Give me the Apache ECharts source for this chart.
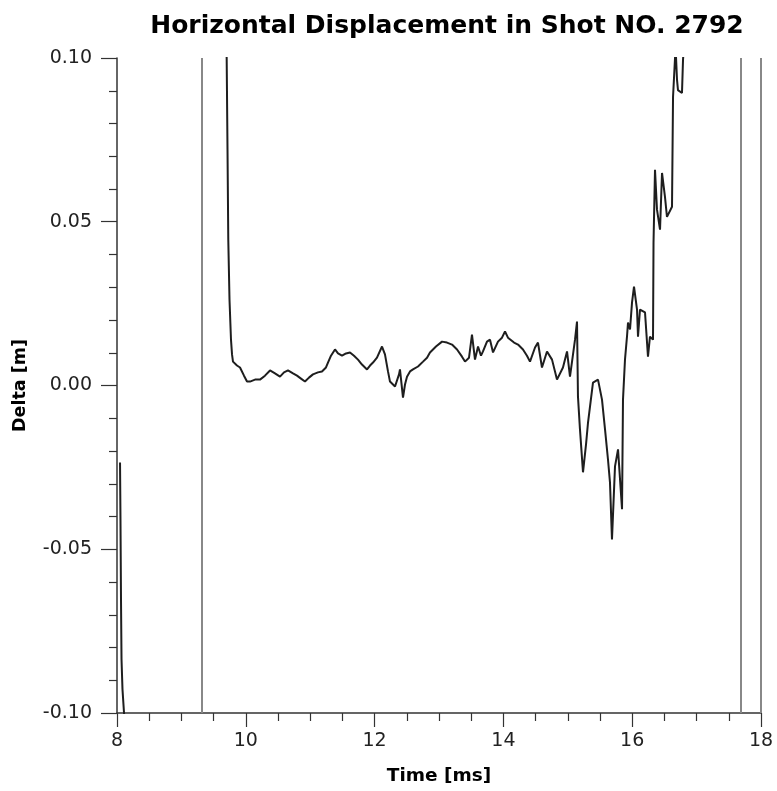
<!DOCTYPE html>
<html>
<head>
<meta charset="utf-8">
<script src="https://cdn.jsdelivr.net/npm/echarts@6/dist/echarts.min.js"></script>
<style>html,body{margin:0;padding:0;background:#fff}#c{width:777px;height:791px}</style>
</head>
<body>
<div id="c"></div>
<script>
const titleText = 'Horizontal Displacement in Shot NO. 2792';
const xName = 'Time [ms]';
const yName = 'Delta [m]';
const xTicks = [8, 10, 12, 14, 16, 18];
const yTicks = [-0.10, -0.05, 0.00, 0.05, 0.10];
const markerTimes = [9.32, 17.69, 17.99];

// early segment (near 8 ms)
const seg1T = [8.047, 8.054, 8.062, 8.070, 8.085, 8.109, 8.124];
const seg1V = [-0.0235, -0.0409, -0.0652, -0.0835, -0.0927, -0.1000, -0.105];

// main segment
const seg2T = [9.693, 9.703, 9.716, 9.728, 9.747, 9.770, 9.786, 9.801, 9.863, 9.910, 9.972,
  10.019, 10.065, 10.143, 10.220, 10.298, 10.376, 10.453, 10.531, 10.593, 10.655, 10.733, 10.795,
  10.857, 10.919, 10.981, 11.043, 11.120, 11.183, 11.245, 11.276, 11.323, 11.385, 11.432, 11.494,
  11.556, 11.618, 11.680, 11.742, 11.804, 11.882, 11.929, 11.975, 12.037, 12.115, 12.161, 12.208,
  12.239, 12.317, 12.379, 12.394, 12.441, 12.472, 12.503, 12.550, 12.596, 12.674, 12.752, 12.814,
  12.860, 12.953, 13.047, 13.124, 13.202, 13.280, 13.357, 13.404, 13.466, 13.512, 13.559, 13.606,
  13.652, 13.683, 13.745, 13.792, 13.839, 13.916, 13.978, 14.025, 14.071, 14.102, 14.165, 14.227,
  14.304, 14.366, 14.413, 14.491, 14.537, 14.599, 14.677, 14.755, 14.832, 14.925, 14.988, 15.034,
  15.081, 15.112, 15.143, 15.158, 15.189, 15.236, 15.283, 15.314, 15.391, 15.469, 15.531, 15.578,
  15.624, 15.655, 15.686, 15.733, 15.780, 15.842, 15.857, 15.888, 15.919, 15.935, 15.966, 15.997,
  16.028, 16.075, 16.090, 16.121, 16.199, 16.245, 16.276, 16.323, 16.331, 16.354, 16.385, 16.432,
  16.463, 16.509, 16.540, 16.618, 16.634, 16.665, 16.672, 16.696, 16.711, 16.773, 16.789, 16.804];
const seg2V = [0.1055, 0.1000, 0.0720, 0.0445, 0.0262, 0.0140, 0.0095, 0.0073, 0.0061, 0.0055, 0.0030,
  0.0012, 0.0012, 0.0018, 0.0018, 0.0030, 0.0046, 0.0037, 0.0027, 0.0040, 0.0046, 0.0037, 0.0030,
  0.0021, 0.0012, 0.0024, 0.0034, 0.0040, 0.0043, 0.0055, 0.0070, 0.0091, 0.0110, 0.0098, 0.0091,
  0.0098, 0.0101, 0.0091, 0.0079, 0.0064, 0.0049, 0.0061, 0.0070, 0.0085, 0.0119, 0.0095, 0.0043,
  0.0012, -0.0003, 0.0034, 0.0049, -0.0037, 0.0003, 0.0027, 0.0043, 0.0049, 0.0058, 0.0073, 0.0085,
  0.0101, 0.0119, 0.0134, 0.0131, 0.0125, 0.0110, 0.0088, 0.0073, 0.0085, 0.0155, 0.0079, 0.0119,
  0.0091, 0.0104, 0.0134, 0.0140, 0.0101, 0.0134, 0.0146, 0.0165, 0.0146, 0.0140, 0.0131, 0.0125,
  0.0110, 0.0091, 0.0073, 0.0116, 0.0131, 0.0055, 0.0104, 0.0079, 0.0018, 0.0055, 0.0104, 0.0027,
  0.0095, 0.0140, 0.0195, -0.0034, -0.0134, -0.0265, -0.0180, -0.0113, 0.0009, 0.0018, -0.0043, -0.0134,
  -0.0226, -0.0296, -0.0470, -0.0247, -0.0195, -0.0378, -0.0043, 0.0079, 0.0149, 0.0192, 0.0171, 0.0253,
  0.0302, 0.0232, 0.0149, 0.0232, 0.0223, 0.0088, 0.0149, 0.0140, 0.0436, 0.0659, 0.0537, 0.0476,
  0.0649, 0.0576, 0.0515, 0.0546, 0.0881, 0.1000, 0.1040, 0.0933, 0.0902, 0.0893, 0.0994, 0.1040];

const zip = (a, b) => a.map((t, i) => [t, b[i]]);
const FONT = 'DejaVu Sans';
const lineStyle = { color: '#1e1e1e', width: 2 };

const chart = echarts.init(document.getElementById('c'), null, { renderer: 'canvas' });
chart.setOption({
  animation: false,
  backgroundColor: '#fff',
  title: {
    text: titleText, left: 442, top: 9, textAlign: 'center',
    textStyle: { fontFamily: FONT, fontWeight: 'bold', fontSize: 25, color: '#000' }
  },
  grid: { left: 117, right: 16, top: 58, bottom: 77, containLabel: false },
  xAxis: {
    type: 'value', min: xTicks[0], max: xTicks[xTicks.length - 1], interval: 2,
    name: xName, nameLocation: 'middle', nameGap: 54,
    nameTextStyle: { fontFamily: FONT, fontWeight: 'bold', fontSize: 18.5, color: '#000' },
    axisLine: { show: true, onZero: false, lineStyle: { color: '#333', width: 1.5 } },
    axisTick: { show: true, length: 14, lineStyle: { color: '#333', width: 1.2 } },
    minorTick: { show: true, splitNumber: 4, length: 8, lineStyle: { color: '#333', width: 1.2 } },
    splitLine: { show: false },
    axisLabel: { fontFamily: FONT, fontSize: 19, color: '#222', margin: 19,
      formatter: v => String(v) }
  },
  yAxis: {
    type: 'value', min: yTicks[0], max: yTicks[yTicks.length - 1], interval: 0.05,
    name: yName, nameLocation: 'middle', nameGap: 88, nameRotate: 90,
    nameTextStyle: { fontFamily: FONT, fontWeight: 'bold', fontSize: 17.5, color: '#000' },
    axisLine: { show: true, onZero: false, lineStyle: { color: '#333', width: 1.5 } },
    axisTick: { show: true, length: 16, lineStyle: { color: '#333', width: 1.2 } },
    minorTick: { show: true, splitNumber: 5, length: 8, lineStyle: { color: '#333', width: 1.2 } },
    splitLine: { show: false },
    axisLabel: { fontFamily: FONT, fontSize: 19, color: '#222', margin: 25,
      formatter: v => v.toFixed(2) }
  },
  series: [
    {
      type: 'line', data: zip(seg1T, seg1V), showSymbol: false, lineStyle, clip: true,
      markLine: {
        silent: true, symbol: 'none', label: { show: false },
        lineStyle: { color: '#888', width: 2, type: 'solid' },
        data: markerTimes.map(t => ({ xAxis: t }))
      }
    },
    { type: 'line', data: zip(seg2T, seg2V), showSymbol: false, lineStyle, clip: true }
  ]
});
</script>
</body>
</html>
